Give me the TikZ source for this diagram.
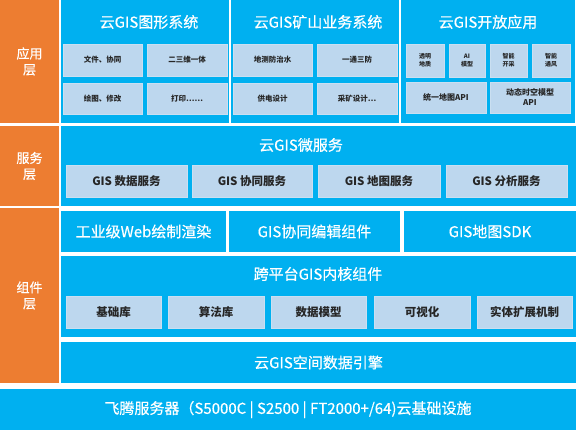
\documentclass[tikz,border=0pt]{standalone}
\usepackage{fontspec}
\setmainfont{Noto Sans CJK SC}
\newfontfamily\medfont[FakeBold=0.5]{Noto Sans CJK SC}
\definecolor{panelblue}{HTML}{00B0F0}
\definecolor{layerorange}{HTML}{ED7D31}
\definecolor{subfill}{HTML}{BDD7EE}
\definecolor{subtext}{HTML}{262626}
\newcommand\blk[7]{\node[#2, anchor=north west, minimum width={(#5-#3)*1pt}, minimum height={(#6-#4)*1pt}] (#1) at (#3,#4) {#7};}
\tikzset{
  base/.style={inner sep=0pt, outer sep=0pt, draw=none, align=center},
  layer/.style={base, fill=layerorange, text=white, font=\medfont\fontsize{13}{16}\selectfont},
  panel/.style={base, fill=panelblue, text=white, font=\medfont\fontsize{15}{18}\selectfont},
  title/.style={base, text=white, font=\medfont\fontsize{15}{18}\selectfont},
  sub/.style={base, fill=subfill, draw=subfill!80!white, text=subtext, font=\bfseries\fontsize{7.5}{10}\selectfont},
  tiny/.style={sub, font=\bfseries\fontsize{6}{8}\selectfont},
  api/.style={sub, font=\bfseries\fontsize{8}{10}\selectfont},
  svc/.style={sub, font=\bfseries\fontsize{11.5}{14}\selectfont},
}
\begin{document}
\begin{tikzpicture}[x=1pt,y=-1pt]
\path[use as bounding box, fill=white] (0,0) rectangle (576,430);
% layers
\blk{lapp}{layer}{0}{0}{59}{123}{应用\\层}
\blk{lsvc}{layer}{0}{126}{59}{206}{服务\\层}
\blk{lcmp}{layer}{0}{208}{59}{383}{组件\\层}
% application panels
\blk{a1}{panel}{61}{0}{229}{123}{}
\blk{a2}{panel}{231}{0}{399}{123}{}
\blk{a3}{panel}{401}{0}{575}{123}{}
\node[title] (a1t) at (149,22) {云GIS图形系统};
\node[title] (a2t) at (318,22) {云GIS矿山业务系统};
\node[title] (a3t) at (488,22) {云GIS开放应用};
\blk{a11}{sub}{63}{44}{142}{76}{文件、协同}
\blk{a12}{sub}{147}{44}{227}{76}{二三维一体}
\blk{a13}{sub}{63}{83}{142}{114}{绘图、修改}
\blk{a14}{sub}{147}{83}{227}{114}{打印……}
\blk{a21}{sub}{233}{44}{312}{76}{地测防治水}
\blk{a22}{sub}{317}{44}{397}{76}{一通三防}
\blk{a23}{sub}{233}{83}{312}{114}{供电设计}
\blk{a24}{sub}{317}{83}{397}{114}{采矿设计…}
\blk{a31}{tiny}{406}{44}{444}{77}{透明\\地质}
\blk{a32}{tiny}{449}{44}{485}{77}{AI\\模型}
\blk{a33}{tiny}{490}{44}{527}{77}{智能\\开采}
\blk{a34}{tiny}{532}{44}{570}{77}{智能\\通风}
\blk{a35}{api}{406}{82}{486}{113}{统一地图API}
\blk{a36}{api}{490}{82}{570}{113}{动态时空模型\\API}
% service layer
\blk{s0}{panel}{61}{126}{576}{206}{}
\node[title] (s0t) at (301,145) {云GIS微服务};
\blk{s1}{svc}{66}{165}{187}{197}{GIS 数据服务}
\blk{s2}{svc}{192}{165}{312}{197}{GIS 协同服务}
\blk{s3}{svc}{318}{165}{440}{197}{GIS 地图服务}
\blk{s4}{svc}{446}{165}{567}{197}{GIS 分析服务}
% component layer
\blk{c1}{panel}{61}{211}{226}{252}{工业级Web绘制渲染}
\blk{c2}{panel}{229}{211}{400}{252}{GIS协同编辑组件}
\blk{c3}{panel}{404}{211}{576}{252}{GIS地图SDK}
\blk{k0}{panel}{61}{256}{576}{337}{}
\node[title] (k0t) at (318,274) {跨平台GIS内核组件};
\blk{k1}{svc}{66}{296}{161}{328}{基础库}
\blk{k2}{svc}{168}{296}{264}{328}{算法库}
\blk{k3}{svc}{271}{296}{366}{328}{数据模型}
\blk{k4}{svc}{374}{296}{470}{328}{可视化}
\blk{k5}{svc}{477}{296}{572}{328}{实体扩展机制}
\blk{e0}{panel}{61}{342}{576}{383}{云GIS空间数据引擎}
% infrastructure
\blk{b0}{panel}{0}{389}{576}{430}{飞腾服务器（S5000C | S2500 | FT2000+/64)云基础设施}
\end{tikzpicture}
\end{document}
